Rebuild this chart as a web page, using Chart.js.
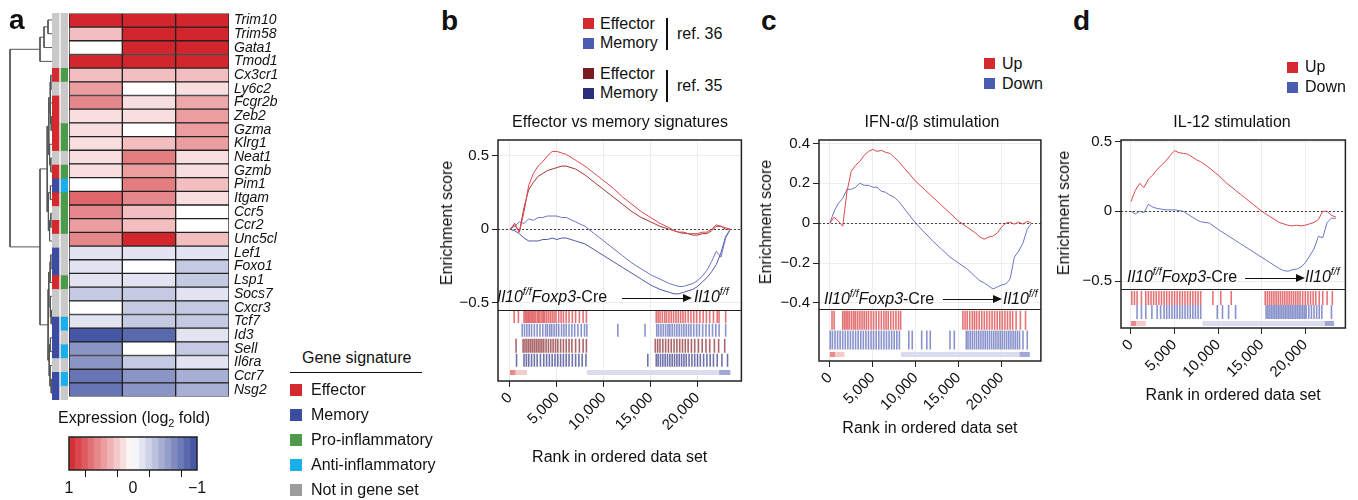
<!DOCTYPE html>
<html>
<head>
<meta charset="utf-8">
<script src="https://cdn.jsdelivr.net/npm/chart.js@4.4.1/dist/chart.umd.min.js"></script>
<style>
body{margin:0;background:#fff;}
#fig{position:relative;width:1358px;height:500px;overflow:hidden;font-family:'Liberation Sans',Arial,Helvetica,sans-serif;color:#111;}
#fig canvas{position:absolute;}
.t{position:absolute;white-space:nowrap;font-size:16px;line-height:18px;}
.sq{position:absolute;width:11px;height:11px;}
.lt{position:absolute;font-weight:bold;font-size:28px;line-height:28px;}
.ylab{position:absolute;font-size:16px;line-height:18px;white-space:nowrap;transform:translate(-50%,-50%) rotate(-90deg);}
.vbar{position:absolute;width:1.5px;background:#111;}
.il{position:absolute;white-space:nowrap;font-size:16px;line-height:20px;}
.il sup{font-size:10.5px;line-height:0;vertical-align:7px;}
.arrow{position:absolute;height:1px;background:#111;}
.arrow:after{content:'';position:absolute;right:-2px;top:-4px;border-left:9px solid #111;border-top:4.5px solid transparent;border-bottom:4.5px solid transparent;}
</style>
</head>
<body>
<div id="fig">
  <!-- panel a -->
  <canvas id="dendro" width="52" height="410" style="left:0;top:0"></canvas>
  <canvas id="strips" width="16" height="410" style="left:52px;top:0"></canvas>
  <canvas id="heat" width="240" height="410" style="left:60px;top:0"></canvas>
  <canvas id="cbar" width="150" height="75" style="left:60px;top:425px"></canvas>
  <div class="lt" style="left:9px;top:6px">a</div>
  <div class="t" style="left:58px;top:409px">Expression (log<sub style="font-size:11px;line-height:0;vertical-align:-4px">2</sub> fold)</div>

  <div class="t" style="left:302px;top:349px">Gene signature</div>
  <div style="position:absolute;left:290px;top:372px;width:132px;height:1.3px;background:#111"></div>
  <div class="sq" style="left:290px;top:384px;width:12px;height:12px;background:#d42a2f"></div>
  <div class="t" style="left:311px;top:381px">Effector</div>
  <div class="sq" style="left:290px;top:409px;width:12px;height:12px;background:#3c4ca0"></div>
  <div class="t" style="left:311px;top:406px">Memory</div>
  <div class="sq" style="left:290px;top:434px;width:12px;height:12px;background:#4b9b4b"></div>
  <div class="t" style="left:311px;top:431px">Pro-inflammatory</div>
  <div class="sq" style="left:290px;top:459px;width:12px;height:12px;background:#1aaeea"></div>
  <div class="t" style="left:311px;top:456px">Anti-inflammatory</div>
  <div class="sq" style="left:290px;top:484px;width:12px;height:12px;background:#9c9c9c"></div>
  <div class="t" style="left:311px;top:481px">Not in gene set</div>

  <!-- panel b -->
  <canvas id="gseaB" width="310" height="339" style="left:440px;top:128px"></canvas>
  <div class="lt" style="left:441px;top:7px">b</div>
  <div class="sq" style="left:583px;top:18px;background:#d42a2f"></div>
  <div class="t" style="left:600px;top:15px">Effector</div>
  <div class="sq" style="left:583px;top:38px;background:#4a5bb0"></div>
  <div class="t" style="left:600px;top:34px">Memory</div>
  <div class="vbar" style="left:666px;top:18px;height:32px"></div>
  <div class="t" style="left:677px;top:25px">ref. 36</div>
  <div class="sq" style="left:583px;top:68px;background:#7a1d22"></div>
  <div class="t" style="left:600px;top:65px">Effector</div>
  <div class="sq" style="left:583px;top:88px;background:#2b2f7a"></div>
  <div class="t" style="left:600px;top:84px">Memory</div>
  <div class="vbar" style="left:666px;top:70px;height:32px"></div>
  <div class="t" style="left:677px;top:77px">ref. 35</div>
  <div class="t" style="left:470px;top:113px;width:300px;text-align:center">Effector vs memory signatures</div>
  <div class="ylab" style="left:447px;top:223px">Enrichment score</div>
  <div class="il" style="left:497px;top:287px"><i>Il10<sup>f/f</sup></i><i>Foxp3</i>-Cre</div>
  <div class="arrow" style="left:622px;top:298px;width:68px"></div>
  <div class="il" style="left:694px;top:287px"><i>Il10<sup>f/f</sup></i></div>

  <!-- panel c -->
  <canvas id="gseaC" width="292" height="310" style="left:760px;top:128px"></canvas>
  <div class="lt" style="left:761px;top:7px">c</div>
  <div class="sq" style="left:984px;top:58px;background:#d42a2f"></div>
  <div class="t" style="left:1002px;top:55px">Up</div>
  <div class="sq" style="left:984px;top:78px;background:#4a5bb0"></div>
  <div class="t" style="left:1002px;top:75px">Down</div>
  <div class="t" style="left:832px;top:113px;width:200px;text-align:center">IFN-α/β stimulation</div>
  <div class="ylab" style="left:766px;top:222px">Enrichment score</div>
  <div class="il" style="left:824px;top:289px"><i>Il10<sup>f/f</sup></i><i>Foxp3</i>-Cre</div>
  <div class="arrow" style="left:943px;top:299px;width:57px"></div>
  <div class="il" style="left:1003px;top:289px"><i>Il10<sup>f/f</sup></i></div>

  <!-- panel d -->
  <canvas id="gseaD" width="294" height="277" style="left:1060px;top:128px"></canvas>
  <div class="lt" style="left:1073px;top:7px">d</div>
  <div class="sq" style="left:1287px;top:62px;background:#d42a2f"></div>
  <div class="t" style="left:1305px;top:58px">Up</div>
  <div class="sq" style="left:1287px;top:82px;background:#4a5bb0"></div>
  <div class="t" style="left:1305px;top:78px">Down</div>
  <div class="t" style="left:1132px;top:113px;width:200px;text-align:center">IL-12 stimulation</div>
  <div class="ylab" style="left:1064px;top:213px">Enrichment score</div>
  <div class="il" style="left:1127px;top:267px"><i>Il10<sup>f/f</sup></i><i>Foxp3</i>-Cre</div>
  <div class="arrow" style="left:1245px;top:278px;width:58px"></div>
  <div class="il" style="left:1305px;top:267px"><i>Il10<sup>f/f</sup></i></div>
</div>

<script>
// ---- panel a data ----
const genes = ['Trim10', 'Trim58', 'Gata1', 'Tmod1', 'Cx3cr1', 'Ly6c2', 'Fcgr2b', 'Zeb2', 'Gzma', 'Klrg1',
  'Neat1', 'Gzmb', 'Pim1', 'Itgam', 'Ccr5', 'Ccr2', 'Unc5cl', 'Lef1', 'Foxo1', 'Lsp1',
  'Socs7', 'Cxcr3', 'Tcf7', 'Id3', 'Sell', 'Il6ra', 'Ccr7', 'Nsg2'];
const exprCol1 = [1, 0.3, 0, 1, 0.3, 0.45, 0.55, 0.15, 0.15, 0.15, 0.15, 0.15, 0, 0.7, 0.55, 0.45, 0.55,
  -0.15, -0.15, -0.15, -0.3, 0, -0.15, -0.95, -0.6, -0.6, -0.78, -0.78];
const exprCol2 = [1, 1, 1, 1, 0.3, 0, 0.15, 0.15, 0, 0.3, 0.6, 0.45, 0.6, 0.55, 0.3, 0.3, 1,
  -0.15, 0, -0.15, -0.3, -0.3, -0.3, -0.85, 0, -0.3, -0.6, -0.6];
const exprCol3 = [1, 1, 1, 1, 0.3, 0.15, 0.4, 0.45, 0.45, 0.45, 0.15, 0.15, 0.3, 0.15, 0, 0, 0.3,
  -0.15, -0.3, -0.3, -0.15, -0.3, -0.3, -0.15, -0.3, -0.15, -0.45, -0.45];
// e effector, m memory, p pro-inflammatory, a anti-inflammatory, n not in set
const sigMain = ['n','n','n','n','e','n','e','e','e','e','n','e','m','e','n','e','n','m','m','e','n','n','m','m','m','n','m','m'];
const sigInfl = ['n','n','n','n','p','n','n','n','p','p','n','p','a','p','p','p','n','n','n','p','n','n','a','n','a','n','a','n'];
// merge tree: [height, left, right], leaves are row indices
const dendroTree = [1.05,
  [0.3, [0.2, [0.1, 0, 1], 2], 3],
  [0.3,
    [0.12, [0.08, [0.05, [0.03, 4, 5], [0.04, 6, [0.02, 7, 8]]], [0.06, 9, [0.03, 10, 11]]],
           [0.09, [0.04, 12, 13], [0.06, [0.03, 14, 15], 16]]],
    [0.1, [0.08, [0.05, [0.03, 17, 18], 19], [0.04, 20, [0.02, 21, 22]]],
          [0.07, [0.04, 23, 24], [0.05, 25, [0.02, 26, 27]]]]]];
const colorbarSteps = [0.95, 0.85, 0.75, 0.65, 0.55, 0.45, 0.35, 0.25, 0.15, 0.05,
  -0.05, -0.15, -0.25, -0.35, -0.45, -0.55, -0.65, -0.75, -0.85, -0.95];
const colorbarTicks = [1, 0.5, 0, -0.5, -1];

// ---- GSEA data ----
const rankTicks = [0, 5000, 10000, 15000, 20000];
const bRanks = [0, 500, 1000, 1500, 2000, 2500, 3000, 3500, 4000, 4500, 5000, 5500, 6000, 7000, 8000, 9000,
  10000, 11000, 12000, 13000, 14000, 15000, 16000, 17000, 17500, 18000, 18500, 19000, 19500, 20000,
  20500, 21000, 21500, 22000, 22500, 23000, 23500];
const bEff36 = [0, 0.04, -0.02, 0.12, 0.30, 0.38, 0.43, 0.46, 0.50, 0.53, 0.53, 0.52, 0.51, 0.47, 0.43, 0.38,
  0.33, 0.28, 0.22, 0.17, 0.12, 0.08, 0.04, 0.01, -0.01, -0.02, -0.03, -0.03, -0.03, -0.03,
  -0.02, -0.02, 0.0, 0.03, 0.02, 0.01, 0];
const bEff35 = [0, 0.03, -0.02, 0.15, 0.27, 0.32, 0.36, 0.38, 0.40, 0.41, 0.42, 0.43, 0.43, 0.41, 0.37, 0.32,
  0.27, 0.22, 0.17, 0.12, 0.08, 0.05, 0.02, 0.0, -0.01, -0.02, -0.02, -0.03, -0.04, -0.04,
  -0.03, -0.03, -0.01, 0.02, 0.02, 0.0, 0];
const bMem36 = [0, 0.02, 0.05, 0.04, 0.07, 0.06, 0.08, 0.08, 0.09, 0.09, 0.09, 0.08, 0.08, 0.05, 0.02, -0.03,
  -0.08, -0.13, -0.18, -0.23, -0.27, -0.31, -0.34, -0.37, -0.38, -0.39, -0.39, -0.38, -0.37, -0.35,
  -0.32, -0.28, -0.22, -0.15, -0.19, -0.06, 0];
const bMem35 = [0, -0.01, -0.03, -0.06, -0.08, -0.08, -0.08, -0.07, -0.07, -0.06, -0.07, -0.06, -0.06, -0.08, -0.10, -0.14,
  -0.18, -0.22, -0.26, -0.30, -0.34, -0.38, -0.41, -0.43, -0.44, -0.44, -0.43, -0.42, -0.41, -0.39,
  -0.36, -0.33, -0.29, -0.24, -0.16, -0.05, 0];
const bHitsEff36 = [450, 900, 1500, 1650, 1800, 1950, 2100, 2250, 2400, 2550, 2700, 2900, 3050, 3200, 3400, 3550,
  3700, 3900, 4100, 4300, 4500, 4700, 4900, 5200, 5450, 5700, 6000, 6300, 6650, 7000, 7400, 7800, 8150,
  15600, 15800, 16000, 16250, 16500, 16700, 16950, 17200, 17450, 17700, 17950, 18200, 18450, 18700,
  19000, 19300, 19600, 19900, 20250, 20600, 20950, 21300, 21700, 22100, 22300, 23000];
const bHitsMem36 = [1300, 1550, 1800, 2050, 2300, 2600, 2900, 3200, 3500, 3800, 4000, 4250, 4450, 4700, 4950,
  5200, 5500, 5750, 6000, 6300, 6600, 6900, 7250, 7600, 7950, 8200, 11500, 14400, 15650, 15850, 16100,
  16350, 16600, 16850, 17050, 17300, 17550, 17800, 18050, 18300, 18550, 18800, 19050, 19300, 19600,
  19900, 20200, 20550, 20900, 21250, 21600, 21950, 22300, 23000];
const bHitsEff35 = [650, 1400, 1600, 1800, 2000, 2200, 2400, 2600, 2800, 3000, 3200, 3400, 3600, 3850, 4100,
  4350, 4600, 4850, 5100, 5400, 5700, 6000, 6300, 6600, 7000, 7400, 7800, 8150, 15500, 15750, 16000,
  16300, 16600, 16900, 17200, 17500, 17800, 18100, 18400, 18700, 19000, 19350, 19700, 20100, 20500,
  20900, 21300, 21800, 22250, 22900];
const bHitsMem35 = [700, 1500, 1750, 2000, 2300, 2600, 2900, 3250, 3600, 3900, 4200, 4500, 4800, 5100, 5400,
  5700, 6000, 6300, 6650, 7000, 7350, 7700, 8100, 14700, 15600, 15800, 16050, 16300, 16550, 16800,
  17050, 17300, 17550, 17800, 18050, 18300, 18550, 18800, 19100, 19400, 19700, 20000, 20300, 20650,
  21000, 21350, 21700, 22100, 22600, 23200];
const bBands = [[0, 600], [600, 1800], [8200, 22300], [22300, 23500]];

const cdRanks = [0, 500, 1000, 1500, 2000, 2500, 3000, 3500, 4000, 4500, 5000, 5500, 6000, 6500, 7000, 7500,
  8000, 9000, 10000, 11000, 12000, 13000, 14000, 15000, 16000, 17000, 17500, 18000, 18500, 19000,
  19500, 20000, 20500, 21000, 21500, 22000, 22500, 23000, 23500];
const cUp = [0, 0.03, 0.01, -0.015, 0.16, 0.26, 0.29, 0.31, 0.34, 0.36, 0.37, 0.36, 0.365, 0.355, 0.35, 0.33,
  0.31, 0.26, 0.21, 0.17, 0.13, 0.09, 0.05, 0.01, -0.02, -0.05, -0.07, -0.08, -0.07, -0.065,
  -0.05, -0.02, 0.0, 0.005, -0.005, 0.005, -0.005, 0.01, 0];
const cDown = [0, 0.06, 0.1, 0.125, 0.17, 0.17, 0.18, 0.2, 0.19, 0.19, 0.18, 0.18, 0.16, 0.155, 0.14, 0.13,
  0.11, 0.055, 0.0, -0.045, -0.09, -0.13, -0.17, -0.2, -0.23, -0.27, -0.29, -0.30, -0.315, -0.33,
  -0.32, -0.31, -0.305, -0.28, -0.17, -0.14, -0.1, -0.03, 0];
const cHitsUp = [250, 500, 1500, 1700, 1900, 2100, 2300, 2550, 2800, 3000, 3250, 3500, 3750, 4000, 4250, 4500,
  4800, 5100, 5400, 5700, 6000, 6300, 6550, 6800, 7100, 7400, 7700, 8000, 8250, 15500, 15750, 16000,
  16300, 16600, 16850, 17100, 17400, 17700, 18000, 18300, 18600, 18900, 19200, 19500, 19800, 20100,
  20400, 20700, 21000, 21300, 21700, 22200, 22800];
const cHitsDown = [50, 300, 600, 900, 1200, 1500, 1800, 2100, 2400, 2700, 3000, 3300, 3600, 3900, 4200, 4500,
  4800, 5100, 5400, 5700, 6000, 6300, 6600, 6900, 7200, 7500, 7800, 8100, 9200, 9600, 10700, 11300,
  11700, 14000, 14500, 15900, 16100, 16350, 16600, 16850, 17100, 17350, 17600, 17850, 18100, 18350,
  18600, 18850, 19100, 19350, 19600, 19850, 20100, 20350, 20600, 20850, 21100, 21350, 21600, 21850,
  22100, 22500, 23000];
const cBands = [[0, 600], [600, 1700], [8280, 22070], [22070, 23300]];

const dUp = [0.07, 0.15, 0.2, 0.17, 0.23, 0.26, 0.3, 0.33, 0.36, 0.40, 0.435, 0.42, 0.415, 0.41, 0.39, 0.37,
  0.355, 0.31, 0.26, 0.2, 0.15, 0.1, 0.05, 0.0, -0.04, -0.08, -0.09, -0.1, -0.105, -0.1,
  -0.105, -0.1, -0.09, -0.08, -0.06, 0.0, 0.0, -0.03, -0.04];
const dDown = [0, -0.02, 0.0, -0.01, 0.05, 0.03, 0.02, 0.015, 0.01, 0.01, 0.01, 0.005, 0.0, -0.02, -0.04, -0.06,
  -0.075, -0.085, -0.13, -0.17, -0.21, -0.25, -0.29, -0.33, -0.37, -0.41, -0.425, -0.43, -0.42, -0.415,
  -0.4, -0.37, -0.32, -0.27, -0.18, -0.19, -0.08, -0.05, -0.05];
const dHitsUp = [100, 400, 700, 1200, 1700, 2000, 2300, 2600, 2900, 3200, 3500, 3800, 4100, 4400, 4700, 5000,
  5300, 5600, 5900, 6200, 6500, 6800, 7100, 7400, 7700, 8000, 9400, 10300, 11500, 15400, 15650, 15900,
  16150, 16400, 16650, 16900, 17150, 17400, 17650, 17900, 18150, 18400, 18650, 18900, 19150, 19400,
  19700, 20000, 20300, 20600, 20900, 21200, 21600, 22000, 22500, 23100];
const dHitsDown = [700, 1200, 1700, 2400, 3000, 3400, 3800, 4100, 4400, 4700, 5000, 5300, 5600, 5900, 6200,
  6500, 6800, 7100, 7400, 7700, 8000, 9900, 10500, 11200, 12000, 15500, 15700, 15900, 16100, 16300,
  16500, 16700, 16900, 17100, 17300, 17500, 17700, 17900, 18100, 18300, 18500, 18700, 18900, 19100,
  19300, 19500, 19700, 19900, 20100, 20400, 20700, 21000, 21300, 21600, 21900, 23000];
const dBands = [[0, 600], [600, 1700], [8200, 22200], [22200, 23300]];

// ---- shared setup ----
Chart.defaults.font.family = "'Liberation Sans', Arial, Helvetica, sans-serif";
Chart.defaults.color = '#111';
Chart.defaults.animation = false;
Chart.defaults.events = [];
Chart.defaults.plugins.legend.display = false;
Chart.defaults.plugins.tooltip.enabled = false;

const sigColors = {e: '#d42a2f', m: '#3c4ca0', p: '#4b9b4b', a: '#1aaeea', n: '#c9c9c9'};

function heatColor(v) {
  const end = v >= 0 ? [210, 38, 44] : [60, 78, 160];
  const t = Math.min(Math.abs(v), 1);
  const c = end.map(e => Math.round(255 + (e - 255) * t));
  return `rgb(${c[0]},${c[1]},${c[2]})`;
}

function fmtES(v) {
  if (v === 0) return '0';
  return v < 0 ? '\u2212' + Math.abs(v) : String(v);
}

// box around plot, dotted zero line, divider above the hit barcode
const framePlugin = {
  id: 'frame',
  beforeDatasetsDraw(chart, args, opts) {
    if (!opts.zero) return;
    const {ctx, chartArea: a, scales} = chart;
    const y = Math.round(scales.y.getPixelForValue(0)) + 0.5;
    ctx.save();
    ctx.strokeStyle = '#444';
    ctx.lineWidth = 1;
    ctx.setLineDash([2, 2]);
    ctx.beginPath();
    ctx.moveTo(a.left, y);
    ctx.lineTo(a.right, y);
    ctx.stroke();
    ctx.restore();
  },
  afterDraw(chart, args, opts) {
    const {ctx, chartArea: a, scales} = chart;
    ctx.save();
    ctx.strokeStyle = '#222';
    if (opts.divider != null) {
      const y = Math.round(scales.y.getPixelForValue(opts.divider)) + 0.5;
      ctx.lineWidth = 1;
      ctx.beginPath();
      ctx.moveTo(a.left, y);
      ctx.lineTo(a.right, y);
      ctx.stroke();
    }
    ctx.lineWidth = opts.width || 1.5;
    ctx.strokeRect(a.left, a.top, a.right - a.left, a.bottom - a.top);
    ctx.restore();
  }
};

// ---- heatmap ----
const heatCols = [exprCol1, exprCol2, exprCol3];
new Chart(document.getElementById('heat'), {
  type: 'bar',
  data: {
    labels: genes,
    datasets: heatCols.map(col => ({
      data: genes.map(() => 1),
      backgroundColor: col.map(heatColor),
      borderColor: '#222',
      borderWidth: 1,
      borderSkipped: false,
      barPercentage: 1,
      categoryPercentage: 1
    }))
  },
  options: {
    indexAxis: 'y',
    responsive: false,
    layout: {padding: {left: 9, top: 13, bottom: 10, right: 0}},
    scales: {
      x: {stacked: true, min: 0, max: 3, display: false},
      y: {
        stacked: true, position: 'right',
        grid: {display: false, drawTicks: false},
        border: {display: false},
        afterFit: s => { s.width = 71; },
        ticks: {autoSkip: false, font: {size: 14, style: 'italic'}, padding: 5, color: '#111'}
      }
    }
  }
});

// ---- annotation strips ----
new Chart(document.getElementById('strips'), {
  type: 'bar',
  data: {
    labels: genes,
    datasets: [
      {data: genes.map(() => 7), backgroundColor: sigMain.map(s => sigColors[s])},
      {data: genes.map(() => 2), backgroundColor: 'rgba(0,0,0,0)'},
      {data: genes.map(() => 7), backgroundColor: sigInfl.map(s => sigColors[s])}
    ].map(d => Object.assign(d, {barPercentage: 1, categoryPercentage: 1, borderWidth: 0}))
  },
  options: {
    indexAxis: 'y',
    responsive: false,
    layout: {padding: {top: 13, bottom: 10}},
    scales: {
      x: {stacked: true, min: 0, max: 16, display: false},
      y: {stacked: true, display: false}
    }
  }
});

// ---- dendrogram ----
function dendroSegments(node) {
  if (typeof node === 'number') return {y: node, h: 0, segs: []};
  const [h, l, r] = node;
  const a = dendroSegments(l), b = dendroSegments(r);
  const seg = [{x: a.h, y: a.y}, {x: h, y: a.y}, {x: h, y: b.y}, {x: b.h, y: b.y}];
  return {y: (a.y + b.y) / 2, h, segs: a.segs.concat(b.segs, [seg])};
}
new Chart(document.getElementById('dendro'), {
  type: 'scatter',
  data: {
    datasets: dendroSegments(dendroTree).segs.map(seg => ({
      data: seg, showLine: true, borderColor: '#555', borderWidth: 1, pointRadius: 0
    }))
  },
  options: {
    responsive: false,
    layout: {padding: {top: 13, bottom: 10}},
    scales: {
      x: {type: 'linear', min: 0, max: 1.3, reverse: true, display: false},
      y: {type: 'linear', min: -0.5, max: genes.length - 0.5, reverse: true, display: false}
    }
  }
});

// ---- colour bar ----
new Chart(document.getElementById('cbar'), {
  type: 'bar',
  data: {
    datasets: [{
      data: colorbarSteps.map(v => ({x: v, y: 1})),
      backgroundColor: colorbarSteps.map(heatColor),
      borderWidth: 0, barPercentage: 1, categoryPercentage: 1
    }]
  },
  plugins: [framePlugin],
  options: {
    responsive: false,
    layout: {padding: {left: 9, right: 13, top: 12, bottom: 0}},
    plugins: {frame: {zero: false, divider: null, width: 1.5}},
    scales: {
      x: {
        type: 'linear', min: -1, max: 1, reverse: true, offset: false,
        afterBuildTicks: s => { s.ticks = colorbarTicks.map(v => ({value: v})); },
        afterFit: s => { s.height = 30; },
        grid: {drawOnChartArea: false, color: '#111', tickColor: '#111', tickLength: 7},
        border: {display: false},
        ticks: {font: {size: 16}, padding: 2, maxRotation: 0,
          callback: v => (v === 1 ? '1' : v === 0 ? '0' : v === -1 ? '\u22121' : '')}
      },
      y: {min: 0, max: 1, display: false}
    }
  }
});

// ---- GSEA panels ----
function gseaChart(id, p) {
  const datasets = [];
  p.curves.forEach(c => datasets.push({
    data: p.ranks.map((x, i) => ({x, y: c.values[i]})),
    showLine: true, borderColor: c.color, borderWidth: 1, pointRadius: 0, tension: 0
  }));
  p.hits.forEach(h => datasets.push({
    data: h.ranks.map(x => ({x, y: h.y})),
    showLine: false, pointStyle: 'line', pointRotation: 90, pointRadius: h.r,
    pointBorderWidth: 1.6, pointBorderColor: h.color, borderColor: h.color
  }));
  p.bands.forEach((b, i) => datasets.push({
    data: [{x: b[0], y: p.bandY}, {x: b[1], y: p.bandY}],
    showLine: true, borderColor: p.bandColors[i], borderWidth: 5, borderCapStyle: 'butt', pointRadius: 0
  }));
  new Chart(document.getElementById(id), {
    type: 'scatter',
    data: {datasets},
    plugins: [framePlugin],
    options: {
      responsive: false,
      layout: {padding: {top: 10, right: 8, left: 0, bottom: 0}},
      plugins: {frame: {zero: true, divider: p.divider}},
      scales: {
        x: {
          type: 'linear', min: p.xMin, max: p.xMax,
          afterBuildTicks: s => { s.ticks = rankTicks.map(v => ({value: v})); },
          afterFit: s => { s.height = p.xAxisH; },
          ticks: {minRotation: 45, maxRotation: 45, autoSkip: false, font: {size: 15}, padding: 2,
            callback: v => v.toLocaleString('en-US')},
          grid: {color: '#ececec', tickColor: '#222', tickLength: 6},
          border: {display: false},
          title: {display: true, text: 'Rank in ordered data set', font: {size: 16}, padding: {top: 0, bottom: 0}}
        },
        y: {
          type: 'linear', min: p.yMin, max: p.yMax,
          afterBuildTicks: s => { s.ticks = p.yTicks.map(v => ({value: v})); },
          afterFit: s => { s.width = p.yAxisW; },
          ticks: {font: {size: 15}, padding: 3, callback: fmtES},
          grid: {color: '#ececec', tickColor: '#222', tickLength: 6},
          border: {display: false}
        }
      }
    }
  });
}

const upRed = '#e0474b', downBlue = '#6b75c5';
const bandColors = ['#e98b8e', '#f4cacb', '#dcdcf0', '#a3a7d8'];

gseaChart('gseaB', {
  ranks: bRanks,
  curves: [
    {values: bEff36, color: upRed},
    {values: bEff35, color: '#a23536'},
    {values: bMem36, color: downBlue},
    {values: bMem35, color: '#5157a6'}
  ],
  hits: [
    {ranks: bHitsEff36, y: -0.595, r: 6.5, color: 'rgba(215,40,45,0.65)'},
    {ranks: bHitsMem36, y: -0.689, r: 6.5, color: 'rgba(60,75,170,0.6)'},
    {ranks: bHitsEff35, y: -0.794, r: 7, color: 'rgba(125,20,25,0.65)'},
    {ranks: bHitsMem35, y: -0.892, r: 6.5, color: 'rgba(35,40,125,0.65)'}
  ],
  bands: bBands, bandColors, bandY: -0.976,
  xMin: -1277, xMax: 24680, yMin: -1.034, yMax: 0.608, yTicks: [0.5, 0, -0.5],
  divider: -0.547, yAxisW: 58, xAxisH: 86
});

gseaChart('gseaC', {
  ranks: cdRanks,
  curves: [{values: cUp, color: upRed}, {values: cDown, color: downBlue}],
  hits: [
    {ranks: cHitsUp, y: -0.487, r: 9.5, color: 'rgba(215,40,45,0.65)'},
    {ranks: cHitsDown, y: -0.586, r: 9.5, color: 'rgba(60,75,170,0.6)'}
  ],
  bands: cBands, bandColors, bandY: -0.658,
  xMin: -1264, xMax: 24590, yMin: -0.691, yMax: 0.417, yTicks: [0.4, 0.2, 0, -0.2, -0.4],
  divider: -0.432, yAxisW: 59, xAxisH: 77
});

gseaChart('gseaD', {
  ranks: cdRanks,
  curves: [{values: dUp, color: upRed}, {values: dDown, color: downBlue}],
  hits: [
    {ranks: dHitsUp, y: -0.621, r: 7, color: 'rgba(215,40,45,0.65)'},
    {ranks: dHitsDown, y: -0.723, r: 7, color: 'rgba(60,75,170,0.6)'}
  ],
  bands: dBands, bandColors, bandY: -0.805,
  xMin: -1144, xMax: 24600, yMin: -0.837, yMax: 0.511, yTicks: [0.5, 0, -0.5],
  divider: -0.560, yAxisW: 61, xAxisH: 77
});
</script>
</body>
</html>
